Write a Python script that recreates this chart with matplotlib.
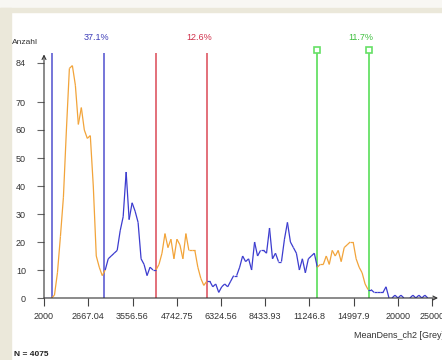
import numpy as np
import matplotlib
matplotlib.use("Agg")
import matplotlib.pyplot as plt
from matplotlib.collections import LineCollection
from matplotlib.patches import Rectangle
from matplotlib.ticker import NullLocator

plt.rcParams["font.family"] = ["Liberation Sans", "DejaVu Sans"]

# Histogram of MeanDens_ch2, log-spaced bins from 2000 to 25000
x_min, x_max = 2000, 25000
counts = [
    0, 0, 0, 1, 9, 22, 36, 60, 82, 83,
    76, 62, 68, 60, 57, 58, 40, 15, 11, 8,
    10, 14, 15, 16, 17, 24, 29, 45, 28, 34,
    31, 27, 14, 12, 8, 11, 10, 10, 12, 16,
    23, 18, 21, 14, 21, 19, 14, 23, 17, 17,
    17, 11, 7, 4.5, 6, 6, 4, 5, 2, 4,
    5, 4, 6, 8, 8, 11, 15, 13, 14, 10,
    20, 15, 17, 17, 16, 25, 14, 16, 13, 13,
    21, 27, 20, 18, 16, 10, 14, 9, 14, 15,
    16, 11, 12, 12, 15, 12, 17, 15, 17, 13,
    18, 19, 20, 20, 14, 11, 9, 5, 3, 3,
    2, 2, 2, 2, 4, 0, 0, 1, 0, 1,
    0, 0, 0, 1, 0, 1, 0, 1, 0, 0,
]

# Gate pairs (lower, upper) with their share of events
gate_bounds = [(2110, 2960), (4145, 5785), (11830, 16560)]
gate_labels = ["37.1%", "12.6%", "11.7%"]
gate_colors = ["#6a6ad6", "#e06470", "#66e066"]
gate_text_colors = ["#3c3cb8", "#d0304a", "#3fbf3f"]

x_ticks = [2000, 2667.04, 3556.56, 4742.75, 6324.56, 8433.93, 11246.8, 14997.9, 20000, 25000]
x_tick_labels = ["2000", "2667.04", "3556.56", "4742.75", "6324.56", "8433.93",
                 "11246.8", "14997.9", "20000", "25000"]
y_ticks = [0, 10, 20, 30, 40, 50, 60, 70, 84]
n_total = 4075

W, H = 442, 360
fig = plt.figure(figsize=(W / 100, H / 100), dpi=100)
fig.patch.set_facecolor("white")

# window frame
beige = "#ebe8da"
fig.add_artist(Rectangle((0, 0), 1, 1, transform=fig.transFigure, color="#f8f7f3", zorder=-3))
fig.add_artist(Rectangle((11 / W, 0), 1, (H - 12) / H, transform=fig.transFigure, color="white", zorder=-2))
fig.add_artist(Rectangle((0, (H - 12) / H), 1, 4 / H, transform=fig.transFigure, color=beige, zorder=-1))
fig.add_artist(Rectangle((0, 0), 11 / W, (H - 8) / H, transform=fig.transFigure, color=beige, zorder=-1))

y_top = 88
ax_bottom = 298
ax_top = ax_bottom - y_top * 2.8
ax = fig.add_axes([44 / W, (H - ax_bottom) / H, 396 / W, (ax_bottom - ax_top) / H])
ax.set_facecolor("none")
ax.set_xscale("log")
x_right = x_min * 10 ** ((440 - 44) / 354)
ax.set_xlim(x_min, x_right)
ax.set_ylim(0, y_top)
for s in ax.spines.values():
    s.set_visible(False)

# histogram polyline, orange inside gates, blue outside
edges = np.geomspace(x_min, x_max, len(counts) + 1)
centers = np.sqrt(edges[:-1] * edges[1:])
pts = np.column_stack([centers, counts])
segs = [pts[i:i + 2] for i in range(len(pts) - 1)]
seg_colors = []
for i in range(len(pts) - 1):
    mid = np.sqrt(centers[i] * centers[i + 1])
    inside = any(lo <= mid <= hi for lo, hi in gate_bounds)
    seg_colors.append("#f2a43a" if inside else "#3c3ccf")
ax.add_collection(LineCollection(segs, colors=seg_colors, linewidths=0.9, zorder=3))

# gate lines and labels
for (lo, hi), lab, col, tcol in zip(gate_bounds, gate_labels, gate_colors, gate_text_colors):
    top = 84 + (298 - 53 - 84 * 2.8) / 2.8
    if col == "#66e066":
        top = 84 + (298 - 50 - 84 * 2.8) / 2.8
        ax.plot([lo, hi], [top, top], ls="none", marker="s", ms=4.5, mfc="white",
                mec=col, mew=1.2, zorder=5, clip_on=False)
    ax.vlines([lo, hi], 0, top, colors=col, lw=1.3, zorder=2, clip_on=False)
    ax.annotate(lab, xy=(hi, 0), xycoords=("data", "figure pixels"),
                xytext=(-8, H - 38), textcoords="offset pixels",
                ha="center", va="center", fontsize=6.5, color=tcol)

# axes with arrow heads
ax.annotate("", xy=(0.995, 0), xytext=(0, 0),
            xycoords=("axes fraction", "data"),
            arrowprops=dict(arrowstyle="->", lw=0.8, color="#333333",
                            mutation_scale=7, shrinkA=0, shrinkB=0), zorder=4,
            annotation_clip=False)
ax.annotate("", xy=(x_min, y_top - 1.0), xytext=(x_min, 0),
            arrowprops=dict(arrowstyle="->", lw=0.8, color="#333333",
                            mutation_scale=7, shrinkA=0, shrinkB=0), zorder=4,
            annotation_clip=False)

ax.xaxis.set_minor_locator(NullLocator())
ax.set_xticks(x_ticks)
ax.set_xticklabels(x_tick_labels)
ax.set_yticks(y_ticks)
ax.tick_params(axis="x", length=6, width=0.8, color="#444444", pad=4,
               labelsize=6.5, labelcolor="#333333")
ax.tick_params(axis="y", length=5, width=0.8, color="#666666", pad=8,
               labelsize=6.5, labelcolor="#333333")

fig.text(25 / W, 1 - 43 / H, "Anzahl", ha="center", va="center", fontsize=6, color="#333333")
fig.text(354 / W, 1 - 336 / H, "MeanDens_ch2 [Grey]", ha="left", va="center",
         fontsize=6.5, color="#333333")
fig.text(14 / W, 1 - 354 / H, f"N = {n_total}", ha="left", va="center",
         fontsize=6, fontweight="bold", color="#222222")

fig.savefig("out.png", dpi=100)
